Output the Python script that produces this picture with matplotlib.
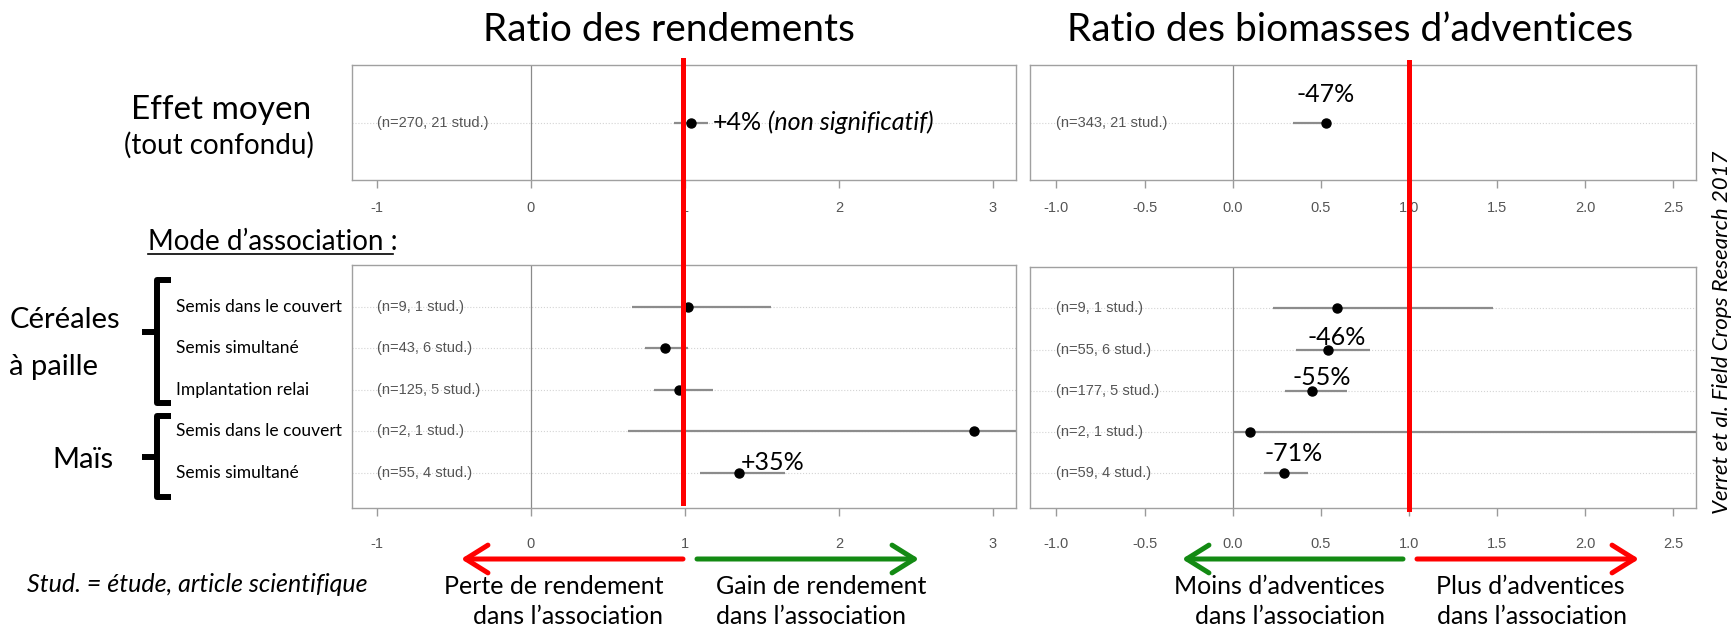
import matplotlib
matplotlib.use('Agg')
import matplotlib.pyplot as plt
from matplotlib.lines import Line2D
from matplotlib.patches import FancyArrowPatch
from matplotlib.transforms import blended_transform_factory as blend

plt.rcParams['font.family'] = ['Lato', 'DejaVu Sans']

# ---- data -------------------------------------------------------------
modes = ["Semis dans le couvert", "Semis simultané", "Implantation relai",
         "Semis dans le couvert", "Semis simultané"]

# yield ratio (left column)
yield_mean_n = "(n=270, 21 stud.)"
yield_mean_pct = 4
yield_mean_ci = (0.93, 1.15)
yield_n = ["(n=9, 1 stud.)", "(n=43, 6 stud.)", "(n=125, 5 stud.)",
           "(n=2, 1 stud.)", "(n=55, 4 stud.)"]
yield_est = [1.02, 0.87, 0.96, 2.88, 1.35]
yield_lo = [0.66, 0.74, 0.80, 0.63, 1.10]
yield_hi = [1.56, 1.02, 1.18, 3.40, 1.65]
yield_pct = [None, None, None, None, 35]

# weed biomass ratio (right column)
weed_mean_n = "(n=343, 21 stud.)"
weed_mean_pct = -47
weed_mean_ci = (0.34, 0.55)
weed_n = ["(n=9, 1 stud.)", "(n=55, 6 stud.)", "(n=177, 5 stud.)",
          "(n=2, 1 stud.)", "(n=59, 4 stud.)"]
weed_est = [0.59, 0.54, 0.45, 0.10, 0.29]
weed_lo = [0.23, 0.36, 0.30, 0.00, 0.18]
weed_hi = [1.48, 0.78, 0.65, 2.80, 0.43]
weed_pct = [None, -46, -55, None, -71]

yield_ticks = [-1, 0, 1, 2, 3]
yield_ticklabels = ["-1", "0", "1", "2", "3"]
weed_ticks = [-1.0, -0.5, 0.0, 0.5, 1.0, 1.5, 2.0, 2.5]
weed_ticklabels = ["-1.0", "-0.5", "0.0", "0.5", "1.0", "1.5", "2.0", "2.5"]

# ---- figure (pixel layout) ---------------------------------------------
W, H = 1735, 631
fig = plt.figure(figsize=(W / 100, H / 100), dpi=100)
bg = fig.add_axes([0, 0, 1, 1])
bg.set_xlim(0, W)
bg.set_ylim(H, 0)
bg.axis('off')


def panel(x0, y0, x1, y1):
    return fig.add_axes([x0 / W, 1 - y1 / H, (x1 - x0) / W, (y1 - y0) / H])


def style(ax, xlim, ylim, ticks, labels, rows, pad):
    ax.set_xlim(*xlim)
    ax.set_ylim(*ylim)
    ax.set_yticks([])
    ax.set_xticks(ticks)
    ax.set_xticklabels(labels, fontfamily='Liberation Sans')
    ax.tick_params(axis='x', direction='out', length=6, width=1,
                   color='#9a9a9a', labelsize=10.5, labelcolor='#555555', pad=pad)
    for s in ax.spines.values():
        s.set_color('#a0a0a0')
        s.set_linewidth(1.0)
    ax.axvline(0, color='#8a8a8a', lw=0.9, zorder=1)
    for r in rows:
        ax.axhline(r, color='#d4d4d4', lw=0.8, ls=':', zorder=0)


def forest(ax, rows, est, lo, hi, nlab, xtext):
    ax.hlines(rows, lo, hi, color='#8c8c8c', lw=1.6, zorder=2)
    ax.plot(est, rows, 'o', color='black', ms=6.5, zorder=3)
    for r, lab in zip(rows, nlab):
        ax.text(xtext, r, lab, fontfamily='Liberation Sans', fontsize=10.5,
                color='#555555', va='center', ha='left')


def pct_label(ax, x, y, pct, dx, dy, ha='center'):
    return ax.annotate(f"{pct:+d}%", (x, y), xytext=(dx, dy),
                       textcoords='offset pixels', ha=ha, va='baseline',
                       fontsize=18, color='black')


top_rows = [1]
bot_rows = [5, 4, 3, 2, 1]

# left column: yield ratio
axl_t = panel(352, 65, 1016, 180)
axl_b = panel(352, 265, 1016, 508)
style(axl_t, (-1.16, 3.15), (0, 2), yield_ticks, yield_ticklabels, top_rows, 9)
style(axl_b, (-1.16, 3.15), (0.16, 6.0), yield_ticks, yield_ticklabels, bot_rows, 15)

yield_mean = 1 + yield_mean_pct / 100
forest(axl_t, top_rows, [yield_mean], [yield_mean_ci[0]], [yield_mean_ci[1]],
       [yield_mean_n], -1.0)
forest(axl_b, bot_rows, yield_est, yield_lo, yield_hi, yield_n, -1.0)

t4 = axl_t.annotate(f"{yield_mean_pct:+d}%", (yield_mean, 1), xytext=(22, 0),
                    textcoords='offset pixels', ha='left', va='center', fontsize=18)
axl_t.annotate(" (non significatif)", xy=(1, 0.5), xycoords=t4, ha='left',
               va='center', fontsize=18, fontstyle='italic')
for r, e, p in zip(bot_rows, yield_est, yield_pct):
    if p is not None:
        pct_label(axl_b, 1 + p / 100, r, p, 2, 3, ha='left')

# right column: weed biomass ratio
axr_t = panel(1030, 65, 1696, 180)
axr_b = panel(1030, 267, 1696, 508)
style(axr_t, (-1.15, 2.63), (0, 2), weed_ticks, weed_ticklabels, top_rows, 9)
style(axr_b, (-1.15, 2.63), (0.16, 6.0), weed_ticks, weed_ticklabels, bot_rows, 15)

weed_mean = 1 + weed_mean_pct / 100
forest(axr_t, top_rows, [weed_mean], [weed_mean_ci[0]], [weed_mean_ci[1]],
       [weed_mean_n], -1.0)
forest(axr_b, bot_rows, weed_est, weed_lo, weed_hi, weed_n, -1.0)
pct_label(axr_t, weed_mean, 1, weed_mean_pct, 0, 20)
label_off = {-46: (9, 5), -55: (10, 6), -71: (10, 12)}
for r, p in zip(bot_rows, weed_pct):
    if p is not None:
        dx, dy = label_off[p]
        pct_label(axr_b, 1 + p / 100, r, p, dx, dy)

# red reference lines at ratio = 1, running through both panels
fig.add_artist(Line2D([0.99, 0.99], [60, 503], color='red', lw=3.6,
                      transform=blend(axl_b.transData, bg.transData), zorder=10))
fig.add_artist(Line2D([1.0, 1.0], [62, 509], color='red', lw=3.6,
                      transform=blend(axr_b.transData, bg.transData), zorder=10))

# ---- annotation text ----------------------------------------------------
bg.text(669, 30, "Ratio des rendements", fontsize=28, ha='center', va='center')
bg.text(1350, 30, "Ratio des biomasses d’adventices", fontsize=28, ha='center', va='center')
bg.text(221, 110, "Effet moyen", fontsize=24, ha='center', va='center')
bg.text(219, 145, "(tout confondu)", fontsize=20, ha='center', va='center')
bg.text(148, 242, "Mode d’association :", fontsize=20, ha='left', va='center')
bg.plot([148, 393], [254, 254], color='black', lw=1.2)

row_tr = blend(bg.transData, axl_b.transData)
for r, m in zip(bot_rows, modes):
    bg.text(176, r, m, fontsize=12.5, ha='left', va='center', transform=row_tr)

bg.text(10, 320, "Céréales", fontsize=21, ha='left', va='center')
bg.text(9, 367, "à paille", fontsize=21, ha='left', va='center')
bg.text(52, 460, "Maïs", fontsize=21, ha='left', va='center')

# braces
for top, bot, mid in [(280, 403, 332), (416, 497, 457)]:
    bg.plot([171, 157, 157, 171], [top, top, bot, bot], color='black', lw=4.3,
            solid_joinstyle='round', solid_capstyle='butt')
    bg.plot([142, 157], [mid, mid], color='black', lw=4.3, solid_capstyle='butt')

bg.text(27, 585, "Stud. = étude, article scientifique", fontsize=18,
        fontstyle='italic', ha='left', va='center')

# direction arrows under the x axes
arrows = [(683, 461, 'red'), (697, 919, '#138a13'),
          (1403, 1182, '#138a13'), (1417, 1639, 'red')]
for xa, xb, c in arrows:
    bg.add_patch(FancyArrowPatch((xa, 559), (xb, 559), color=c, lw=3.6,
                                 arrowstyle='->,head_length=0.8,head_width=0.5',
                                 mutation_scale=20, shrinkA=0, shrinkB=0,
                                 capstyle='round', joinstyle='round'))

notes = [(554, 587, "Perte de rendement"), (568, 617, "dans l’association"),
         (821, 587, "Gain de rendement"), (811, 617, "dans l’association"),
         (1279, 587, "Moins d’adventices"), (1290, 617, "dans l’association"),
         (1530, 587, "Plus d’adventices"), (1532, 617, "dans l’association")]
for x, y, s in notes:
    bg.text(x, y, s, fontsize=18, ha='center', va='center')

bg.text(1722, 332, "Verret et al. Field Crops Research 2017", fontsize=16,
        fontstyle='italic', rotation=90, ha='center', va='center')

fig.savefig('out.png', dpi=100)
